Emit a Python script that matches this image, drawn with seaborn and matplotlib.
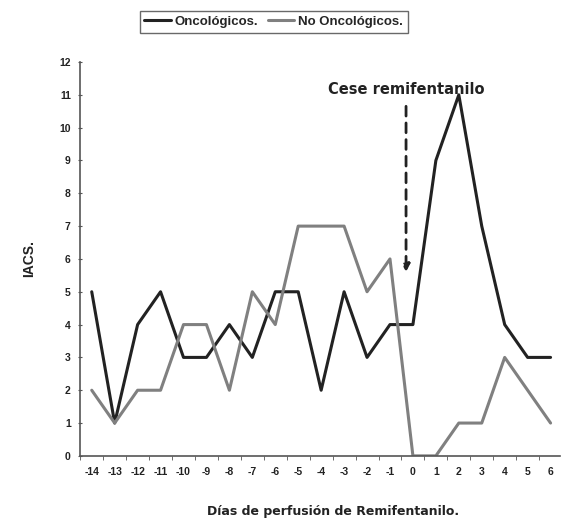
import pandas as pd
import matplotlib
matplotlib.use("Agg")
import matplotlib.pyplot as plt
import seaborn as sns
from matplotlib.ticker import MultipleLocator

dias = list(range(-14, 7))
oncologicos = [5, 1, 4, 5, 3, 3, 4, 3, 5, 5, 2, 5, 3, 4, 4, 9, 11, 7, 4, 3, 3]
no_oncologicos = [2, 1, 2, 2, 4, 4, 2, 5, 4, 7, 7, 7, 5, 6, 0, 0, 1, 1, 3, 2, 1]

sns.set_style("ticks")
plt.rcParams["font.family"] = ["Liberation Sans", "DejaVu Sans"]

df = pd.DataFrame({"dia": dias * 2,
                   "IACS": oncologicos + no_oncologicos,
                   "grupo": ["Oncológicos."] * len(dias) + ["No Oncológicos."] * len(dias)})

fig = plt.figure(figsize=(5.62, 5.21), dpi=100)
ax = fig.add_axes([0.142, 0.125, 0.854, 0.756])

sns.lineplot(data=df, x="dia", y="IACS", hue="grupo",
             palette={"Oncológicos.": "#222222", "No Oncológicos.": "#808080"},
             linewidth=2.2, ax=ax, legend=False)

ax.set_xlim(-14.52, 6.4)
ax.set_ylim(0, 12)
ax.set_xticks(dias)
ax.set_xticklabels([str(d) for d in dias], fontsize=7.5, fontweight="bold", color="#222222")
ax.xaxis.set_minor_locator(MultipleLocator(1, offset=0.5))
ax.tick_params(axis="x", which="major", length=0, pad=8)
ax.tick_params(axis="x", which="minor", length=3, direction="out", color="#555555")
ax.set_yticks(range(0, 13))
ax.set_yticklabels([str(v) for v in range(0, 13)], fontsize=7.5, fontweight="bold", color="#222222")
ax.tick_params(axis="y", length=3, direction="inout", color="#555555", pad=5)
sns.despine(ax=ax)
for s in ["left", "bottom"]:
    ax.spines[s].set_color("#555555")
    ax.spines[s].set_linewidth(1.2)

ax.set_xlabel("Días de perfusión de Remifentanilo.", fontsize=9, fontweight="bold",
              family=["DejaVu Sans"], color="#222222")
ax.xaxis.set_label_coords(0.527, -0.124)
ax.set_ylabel("IACS.", fontsize=10, fontweight="bold", color="#222222")
ax.yaxis.set_label_coords(-0.092, 0.5)

ax.annotate("", xy=(-0.3, 5.6), xytext=(-0.3, 10.65),
            arrowprops=dict(arrowstyle="-|>", linestyle=(0, (3.5, 2.5)), color="#222222",
                            lw=2.0, mutation_scale=11, shrinkA=0, shrinkB=0))
ax.text(-0.3, 11.15, "Cese remifentanilo", ha="center", va="center",
        fontsize=10.5, fontweight="bold", family=["DejaVu Sans"], color="#222222")

handles = [plt.Line2D([], [], color="#222222", lw=2.2),
           plt.Line2D([], [], color="#808080", lw=2.2)]
leg = fig.legend(handles, ["Oncológicos.", "No Oncológicos."], loc="center",
                 bbox_to_anchor=(0.487, 0.958), ncol=2, frameon=True, fancybox=False,
                 prop={"size": 9.5, "weight": "bold"}, handlelength=2.0, handletextpad=0.3,
                 columnspacing=0.7, borderpad=0.35, edgecolor="#444444")
leg.get_frame().set_linewidth(1.0)

fig.savefig("out.png", dpi=100)
